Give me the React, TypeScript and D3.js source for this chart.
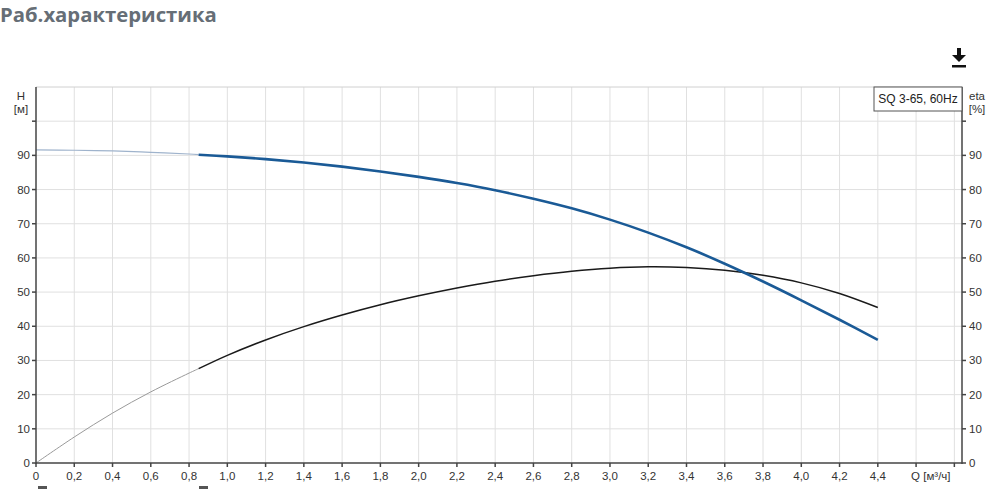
import React from "react";
import * as d3 from "d3";

const title = "Раб.характеристика";
const legendLabel = "SQ 3-65, 60Hz";
const xTickValues = [0, 0.2, 0.4, 0.6, 0.8, 1.0, 1.2, 1.4, 1.6, 1.8, 2.0, 2.2, 2.4, 2.6, 2.8, 3.0, 3.2, 3.4, 3.6, 3.8, 4.0, 4.2, 4.4, 4.6, 4.8];
const yTickValues = [0, 10, 20, 30, 40, 50, 60, 70, 80, 90, 100];
const xAxisTitle = "Q [м³/ч]";

// Extrapolated (thin) part of curves
const qThin = [0, 0.2, 0.4, 0.6, 0.8, 0.85];
const hThin = [91.6, 91.5, 91.3, 90.9, 90.4, 90.2];
const etaThin = [0, 7.6, 14.6, 20.8, 26.3, 27.6];

// Operating range (thick) part of curves
const qMain = [0.85, 1.0, 1.2, 1.4, 1.6, 1.8, 2.0, 2.2, 2.4, 2.6, 2.8, 3.0, 3.2, 3.4, 3.6, 3.8, 4.0, 4.2, 4.4];
const hMain = [90.2, 89.7, 88.9, 87.9, 86.7, 85.3, 83.7, 81.9, 79.8, 77.3, 74.5, 71.2, 67.4, 63.1, 58.3, 53.1, 47.6, 41.9, 36.0];
const etaMain = [27.6, 31.5, 36.0, 39.9, 43.3, 46.3, 48.9, 51.2, 53.2, 54.8, 56.1, 57.0, 57.4, 57.2, 56.4, 54.9, 52.7, 49.6, 45.5];

export default function App() {
  const W = 1000, H = 489;
  const left = 36, right = 962, top = 87, bottom = 463;
  const x = d3.scaleLinear().domain([0, 4.84]).range([left, right]);
  const y = d3.scaleLinear().domain([0, 110]).range([bottom, top]);

  const line = d3
    .line<[number, number]>()
    .x((d) => x(d[0]))
    .y((d) => y(d[1]))
    .curve(d3.curveCatmullRom.alpha(0.5));

  const zip = (a: number[], b: number[]) => a.map((v, i) => [v, b[i]] as [number, number]);

  const font = "'Liberation Sans', Arial, sans-serif";
  const tickColor = "#333";

  return (
    <svg
      width={W}
      height={H}
      style={{ position: "absolute", left: 0, top: 0, background: "#fff" }}
    >
      <text x={0} y={22} fontFamily="'Open Sans', 'Noto Sans', sans-serif" fontWeight={700} fontSize={20.3} fill="#666e76">
        {title}
      </text>

      {/* download icon */}
      <g fill="#111">
        <rect x={957} y={48} width={4} height={8} />
        <path d="M952,55 L966,55 L959,62 Z" />
        <rect x={952} y={65} width={14} height={2.5} />
      </g>

      {/* grid */}
      <g stroke="#e0e0e0" strokeWidth={1}>
        {xTickValues.filter((v) => v > 0).map((v) => (
          <line key={"gx" + v} x1={x(v)} x2={x(v)} y1={top} y2={bottom} />
        ))}
        {yTickValues.filter((v) => v > 0).map((v) => (
          <line key={"gy" + v} x1={left} x2={right} y1={y(v)} y2={y(v)} />
        ))}
        <line x1={left} x2={right} y1={top} y2={top} stroke="#d0d0d0" />
      </g>

      {/* curves */}
      <path d={line(zip(qThin, hThin)) || ""} fill="none" stroke="#9fb3cc" strokeWidth={1.2} />
      <path d={line(zip(qThin, etaThin)) || ""} fill="none" stroke="#9a9a9a" strokeWidth={1} />
      <path d={line(zip(qMain, etaMain)) || ""} fill="none" stroke="#1a1a1a" strokeWidth={1.5} />
      <path d={line(zip(qMain, hMain)) || ""} fill="none" stroke="#1a5a96" strokeWidth={2.6} />

      {/* axes */}
      <g stroke="#444" strokeWidth={1.5}>
        <line x1={left} x2={left} y1={top} y2={bottom + 1} />
        <line x1={right} x2={right} y1={top} y2={bottom + 1} />
        <line x1={left} x2={right} y1={bottom} y2={bottom} />
        {yTickValues.map((v) => (
          <g key={"ty" + v}>
            <line x1={left - 4} x2={left} y1={y(v)} y2={y(v)} />
            <line x1={right} x2={right + 4} y1={y(v)} y2={y(v)} />
          </g>
        ))}
        {xTickValues.map((v) => (
          <line key={"tx" + v} x1={x(v)} x2={x(v)} y1={bottom} y2={bottom + 4} />
        ))}
      </g>

      <g fontFamily={font} fontSize={11.5} fill={tickColor}>
        {yTickValues.filter((v) => v < 100).map((v) => (
          <g key={"ly" + v}>
            <text x={left - 6} y={y(v) + 4} textAnchor="end">{v}</text>
            <text x={right + 7} y={y(v) + 4} textAnchor="start">{v}</text>
          </g>
        ))}
        {xTickValues.filter((v) => v <= 4.4).map((v) => (
          <text key={"lx" + v} x={x(v)} y={bottom + 17} textAnchor="middle">
            {v === 0 ? "0" : v.toFixed(1).replace(".", ",")}
          </text>
        ))}
        <text x={x(4.6) - 5} y={bottom + 17} textAnchor="start">{xAxisTitle}</text>
        <text x={21} y={100} textAnchor="middle">H</text>
        <text x={21} y={113} textAnchor="middle">[м]</text>
        <text x={977} y={100} textAnchor="middle">eta</text>
        <text x={977} y={113} textAnchor="middle">[%]</text>
      </g>

      {/* legend box */}
      <rect x={874} y={top} width={right - 874} height={24} fill="#fff" stroke="#555" strokeWidth={1} />
      <text x={(874 + right) / 2} y={top + 16} textAnchor="middle" fontFamily={font} fontSize={12} fill="#222">
        {legendLabel}
      </text>

      {/* partially visible items at bottom edge */}
      <rect x={38} y={486} width={9} height={3} fill="#555" />
      <rect x={199} y={486} width={9} height={3} fill="#555" />
    </svg>
  );
}
